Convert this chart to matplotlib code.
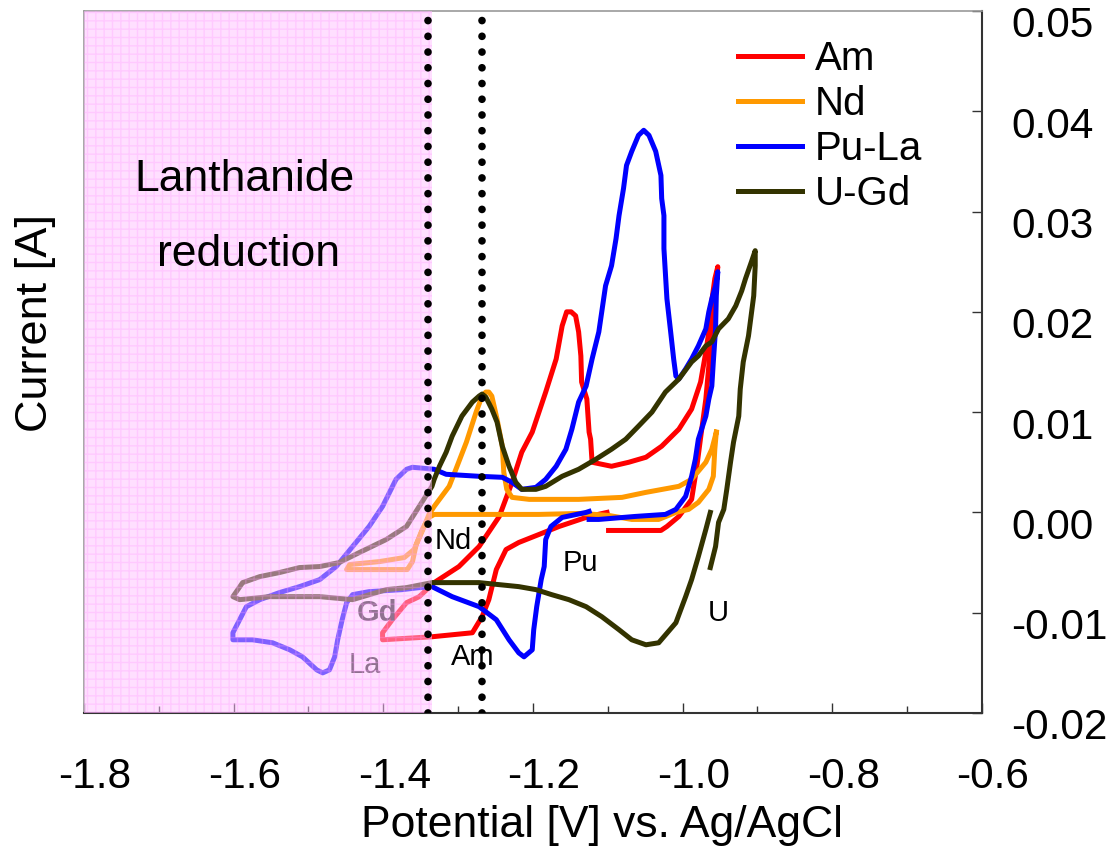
import matplotlib
matplotlib.use('Agg')
import matplotlib.pyplot as plt
from matplotlib.transforms import ScaledTranslation
from matplotlib.ticker import MultipleLocator, FormatStrFormatter

plt.rcParams['font.family'] = ['Liberation Sans', 'DejaVu Sans']
plt.rcParams['axes.unicode_minus'] = False
plt.rcParams['hatch.linewidth'] = 1.0

# cyclic voltammograms, potential [V] vs Ag/AgCl and current [A]
am_v = [-1.099, -1.029, -1.021, -1.005, -0.988, -0.981, -0.975, -0.969, -0.965, -0.961,
        -0.957, -0.953, -0.957, -0.963, -0.965, -0.969, -0.976, -0.988, -1.005, -1.028,
        -1.049, -1.072, -1.095, -1.121, -1.123, -1.125, -1.128, -1.135, -1.136, -1.139,
        -1.143, -1.149, -1.155, -1.161, -1.169, -1.183, -1.201, -1.215, -1.228, -1.245,
        -1.272, -1.299, -1.332, -1.352, -1.369, -1.388, -1.401, -1.401, -1.335, -1.281,
        -1.268, -1.259, -1.249, -1.236, -1.219, -1.165, -1.125, -1.101]
am_i = [-0.0018, -0.0018, -0.0014, -0.0004, 0.0013, 0.0046, 0.0080, 0.0113, 0.0146, 0.0173,
        0.0213, 0.0245, 0.0233, 0.0200, 0.0180, 0.0160, 0.0130, 0.0103, 0.0083, 0.0066,
        0.0055, 0.0050, 0.0046, 0.0050, 0.0073, 0.0080, 0.0113, 0.0130, 0.0156, 0.0180,
        0.0196, 0.0200, 0.0200, 0.0186, 0.0153, 0.0120, 0.0080, 0.0060, 0.0030, -0.0004,
        -0.0034, -0.0054, -0.0070, -0.0084, -0.0090, -0.0107, -0.0120, -0.0127, -0.0124, -0.0120,
        -0.0104, -0.0087, -0.0057, -0.0037, -0.0030, -0.0014, -0.0004, 0.0000]

nd_v = [-0.955, -0.957, -0.959, -0.965, -0.979, -0.992, -1.009, -1.032, -1.068, -1.099,
        -1.135, -1.192, -1.272, -1.332, -1.339, -1.348, -1.356, -1.361, -1.368, -1.405,
        -1.449, -1.445, -1.405, -1.372, -1.359, -1.347, -1.339, -1.332, -1.325, -1.312,
        -1.303, -1.289, -1.276, -1.268, -1.263, -1.259, -1.255, -1.248, -1.241, -1.239,
        -1.235, -1.228, -1.205, -1.139, -1.081, -1.049, -1.005, -0.988, -0.969, -0.961,
        -0.955]
nd_i = [0.0080, 0.0063, 0.0036, 0.0023, 0.0010, 0.0003, 0.0000, -0.0007, -0.0007, -0.0003,
        -0.0001, -0.0002, -0.0002, -0.0002, -0.0005, -0.0017, -0.0032, -0.0049, -0.0057, -0.0057,
        -0.0057, -0.0052, -0.0049, -0.0045, -0.0037, -0.0017, -0.0002, 0.0006, 0.0013, 0.0026,
        0.0043, 0.0070, 0.0100, 0.0116, 0.0120, 0.0120, 0.0116, 0.0093, 0.0066, 0.0040,
        0.0023, 0.0015, 0.0013, 0.0013, 0.0015, 0.0020, 0.0026, 0.0033, 0.0050, 0.0063,
        0.0080]

pula_v = [-1.125, -1.112, -1.063, -1.023, -1.009, -0.996, -0.988, -0.983, -0.979, -0.969,
          -0.965, -0.961, -0.959, -0.956, -0.955, -0.953, -0.956, -0.961, -0.965, -0.969,
          -0.979, -0.988, -0.996, -1.005, -1.009, -1.012, -1.016, -1.021, -1.025, -1.025,
          -1.028, -1.029, -1.036, -1.045, -1.052, -1.059, -1.068, -1.075, -1.079, -1.085,
          -1.089, -1.095, -1.103, -1.112, -1.121, -1.129, -1.139, -1.148, -1.156, -1.169,
          -1.183, -1.196, -1.215, -1.228, -1.241, -1.272, -1.316, -1.332, -1.361, -1.369,
          -1.383, -1.401, -1.419, -1.441, -1.463, -1.485, -1.512, -1.539, -1.565, -1.583,
          -1.592, -1.601, -1.601, -1.575, -1.548, -1.525, -1.508, -1.489, -1.481, -1.472,
          -1.465, -1.461, -1.455, -1.449, -1.441, -1.419, -1.375, -1.352, -1.335, -1.308,
          -1.272, -1.249, -1.232, -1.219, -1.212, -1.201, -1.199, -1.195, -1.189, -1.185,
          -1.183, -1.176, -1.161, -1.129, -1.125]
pula_i = [-0.0007, -0.0007, -0.0004, -0.0002, 0.0003, 0.0016, 0.0036, 0.0053, 0.0073, 0.0096,
          0.0113, 0.0126, 0.0150, 0.0183, 0.0216, 0.0240, 0.0226, 0.0213, 0.0200, 0.0183,
          0.0166, 0.0153, 0.0143, 0.0133, 0.0136, 0.0153, 0.0180, 0.0213, 0.0263, 0.0296,
          0.0313, 0.0336, 0.0360, 0.0376, 0.0381, 0.0376, 0.0360, 0.0346, 0.0323, 0.0296,
          0.0273, 0.0246, 0.0226, 0.0180, 0.0153, 0.0126, 0.0110, 0.0083, 0.0063, 0.0046,
          0.0033, 0.0025, 0.0023, 0.0030, 0.0035, 0.0036, 0.0038, 0.0043, 0.0045, 0.0043,
          0.0033, 0.0006, -0.0014, -0.0034, -0.0054, -0.0067, -0.0074, -0.0080, -0.0087, -0.0094,
          -0.0107, -0.0120, -0.0127, -0.0127, -0.0130, -0.0137, -0.0144, -0.0157, -0.0160, -0.0157,
          -0.0144, -0.0127, -0.0107, -0.0090, -0.0082, -0.0079, -0.0077, -0.0075, -0.0074, -0.0084,
          -0.0094, -0.0107, -0.0127, -0.0140, -0.0144, -0.0137, -0.0117, -0.0094, -0.0067, -0.0054,
          -0.0027, -0.0014, -0.0005, 0.0000, 0.0001]

ugd_v = [-0.963, -0.956, -0.952, -0.945, -0.941, -0.936, -0.932, -0.925, -0.923, -0.919,
         -0.912, -0.905, -0.903, -0.903, -0.908, -0.916, -0.921, -0.929, -0.939, -0.952,
         -0.961, -0.969, -0.979, -0.988, -1.005, -1.023, -1.041, -1.059, -1.076, -1.095,
         -1.116, -1.139, -1.161, -1.183, -1.196, -1.215, -1.223, -1.232, -1.241, -1.248,
         -1.255, -1.263, -1.268, -1.272, -1.281, -1.295, -1.308, -1.316, -1.325, -1.332,
         -1.335, -1.352, -1.369, -1.396, -1.432, -1.459, -1.485, -1.512, -1.539, -1.565,
         -1.588, -1.601, -1.592, -1.552, -1.485, -1.441, -1.396, -1.369, -1.335, -1.272,
         -1.219, -1.196, -1.175, -1.152, -1.129, -1.108, -1.085, -1.068, -1.049, -1.032,
         -1.009, -0.996, -0.988, -0.979, -0.969, -0.963]
ugd_i = [-0.0055, -0.0034, -0.0010, 0.0003, 0.0023, 0.0050, 0.0070, 0.0096, 0.0123, 0.0150,
         0.0176, 0.0216, 0.0246, 0.0261, 0.0250, 0.0233, 0.0221, 0.0206, 0.0193, 0.0183,
         0.0170, 0.0166, 0.0156, 0.0150, 0.0133, 0.0120, 0.0100, 0.0086, 0.0073, 0.0063,
         0.0053, 0.0043, 0.0036, 0.0026, 0.0023, 0.0023, 0.0030, 0.0046, 0.0066, 0.0090,
         0.0103, 0.0115, 0.0118, 0.0116, 0.0110, 0.0096, 0.0076, 0.0060, 0.0046, 0.0033,
         0.0026, 0.0006, -0.0014, -0.0027, -0.0040, -0.0050, -0.0054, -0.0055, -0.0060, -0.0064,
         -0.0070, -0.0084, -0.0087, -0.0084, -0.0084, -0.0087, -0.0077, -0.0075, -0.0070, -0.0070,
         -0.0074, -0.0077, -0.0082, -0.0087, -0.0094, -0.0104, -0.0117, -0.0127, -0.0132, -0.0130,
         -0.0110, -0.0084, -0.0067, -0.0044, -0.0017, 0.0000]

series_names = ['Am', 'Nd', 'Pu-La', 'U-Gd']
series_colors = ['#FF0000', '#FF9900', '#0000FF', '#333300']

# peak annotations
peak_labels = ['Nd', 'Am', 'Pu', 'U']
peak_pos = [(-1.307, -0.0029), (-1.281, -0.0144), (-1.137, -0.0050), (-0.952, -0.0100)]
faded_labels = ['Gd', 'La']
faded_pos = [(-1.408, -0.0100), (-1.425, -0.0152)]

ln_edge = -1.335          # end of lanthanide reduction zone
marker_lines = [-1.34, -1.268]

fig = plt.figure(figsize=(11.17, 8.49), dpi=100)
ax = fig.add_axes([0.0752, 0.1602, 0.8039, 0.8269])

data = [(am_v, am_i), (nd_v, nd_i), (pula_v, pula_i), (ugd_v, ugd_i)]
for (v, i), name, col in zip(data, series_names, series_colors):
    ax.plot(v, i, color=col, lw=3.6, label=name, solid_joinstyle='round', zorder=2)

# labels that sit under the shaded zone
for txt, (x, y) in zip(faded_labels, faded_pos):
    ax.text(x, y, txt, ha='center', va='center', fontsize=21, color='#222222',
            fontweight='bold' if txt == 'Gd' else 'normal', zorder=2.2)

# shaded lanthanide zone with a grid pattern, drawn over the curves
ax.axvspan(-1.8, ln_edge, facecolor='#FFC0FF', alpha=0.5, lw=0, zorder=3)
ax.axvspan(-1.8, ln_edge, facecolor='none', edgecolor='#FF99FF', hatch='++',
           alpha=0.3, lw=0, zorder=3.1)

for xv in marker_lines:
    ax.axvline(xv, color='black', lw=5.5, ls=(0, (0.01, 2.05)),
               dash_capstyle='round', zorder=4)

for txt, (x, y) in zip(peak_labels, peak_pos):
    ax.text(x, y, txt, ha='center', va='center', fontsize=21, zorder=5)

ax.text(-1.585, 0.032, 'Lanthanide', ha='center', va='baseline', fontsize=32, zorder=6)
ax.text(-1.58, 0.0246, 'reduction', ha='center', va='baseline', fontsize=32, zorder=6)

ax.set_xlim(-1.8, -0.6)
ax.set_ylim(-0.02, 0.05)
ax.xaxis.set_major_locator(MultipleLocator(0.2))
ax.xaxis.set_minor_locator(MultipleLocator(0.1))
ax.xaxis.set_major_formatter(FormatStrFormatter('%.1f'))
ax.yaxis.set_major_locator(MultipleLocator(0.01))
ax.yaxis.set_major_formatter(FormatStrFormatter('%.2f'))

ax.tick_params(axis='x', which='both', direction='in', top=False, bottom=True,
               labelsize=30.5, pad=32, color='#333333', width=1)
ax.tick_params(axis='x', which='major', length=7)
ax.tick_params(axis='x', which='minor', length=5)
ax.tick_params(axis='y', direction='in', left=False, right=True, labelleft=False,
               labelright=True, labelsize=30.5, pad=21, length=7, color='#333333', width=1)

for side in ['bottom', 'right']:
    ax.spines[side].set_color('#333333')
    ax.spines[side].set_linewidth(1.5)
for side in ['top', 'left']:
    ax.spines[side].set_color('#999999')
    ax.spines[side].set_linewidth(1.2)

leg = ax.legend(loc='upper left', bbox_to_anchor=(0.728, 0.959), frameon=False,
                fontsize=29, handlelength=1.59, handletextpad=0.32, labelspacing=0.18,
                borderpad=0, borderaxespad=0)

fig.text(0.539, 0.0141, 'Potential [V] vs. Ag/AgCl', ha='center', va='baseline', fontsize=32)
fig.text(0.0322, 0.6196, 'Current [A]', ha='center', va='center', rotation=90, fontsize=32.5)

# excel-style label placement: shift tick labels a little
fig.canvas.draw()
dx = ScaledTranslation(0.11, 0, fig.dpi_scale_trans)
dy = ScaledTranslation(0, -0.11, fig.dpi_scale_trans)
for t in ax.xaxis.get_major_ticks():
    t.label1.set_transform(t.label1.get_transform() + dx)
for t in ax.yaxis.get_major_ticks():
    t.label2.set_transform(t.label2.get_transform() + dy)

fig.savefig('out.png', dpi=100)
